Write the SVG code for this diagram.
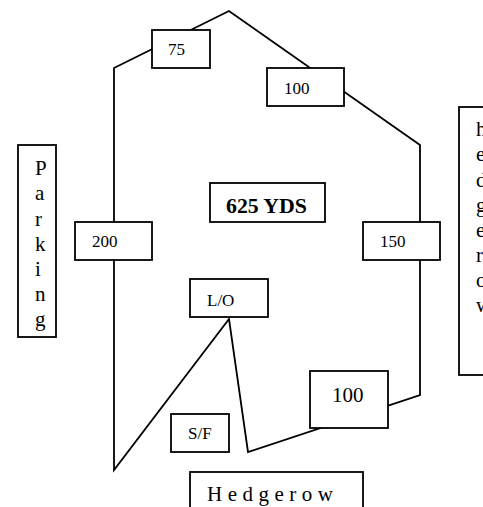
<svg xmlns="http://www.w3.org/2000/svg" width="483" height="507" viewBox="0 0 483 507">
<style>
rect{fill:#fff;stroke:#000;stroke-width:1.8}
path{fill:none;stroke:#000;stroke-width:1.8}
text{font-family:"Liberation Serif","Times New Roman",serif;fill:#000}
.s{font-size:17px}
.m{font-size:21px}
</style>
<rect width="483" height="507" style="fill:#fff;stroke:none"/>
<g id="connectors">
<path d="M114 470V68L229 11L420 145V395L248 452L229 319Z"/>
</g>
<g id="n75"><rect x="152" y="30" width="58" height="38"/><text class="s" x="168" y="55">75</text></g>
<g id="n100top"><rect x="267" y="68" width="77" height="38"/><text class="s" x="284" y="94">100</text></g>
<g id="n150"><rect x="363" y="222" width="77" height="38"/><text class="s" x="380" y="247">150</text></g>
<g id="n200"><rect x="75" y="222" width="77" height="38"/><text class="s" x="92" y="247">200</text></g>
<g id="n625"><rect x="210" y="183" width="115" height="39"/><text x="226" y="213" font-size="21.8" font-weight="bold">625 YDS</text></g>
<g id="parking"><rect x="18" y="145" width="38" height="192"/>
<text class="m" x="35" y="175">P</text><text class="m" x="35" y="200">a</text><text class="m" x="35" y="226">r</text><text class="m" x="35" y="251">k</text><text class="m" x="35" y="276">i</text><text class="m" x="35" y="301">n</text><text class="m" x="35" y="326">g</text></g>
<g id="lo"><rect x="190" y="279" width="78" height="38"/><text class="s" x="207" y="306">L/O</text></g>
<g id="sf"><rect x="171" y="414" width="58" height="38"/><text class="s" x="188" y="439">S/F</text></g>
<g id="n100bottom"><rect x="310" y="371" width="78" height="57"/><text x="332" y="402" font-size="21">100</text></g>
<g id="hedgerow"><rect x="190" y="472" width="173" height="45"/><text class="m" x="207" y="501" letter-spacing="5.5">Hedgerow</text></g>
<g id="side"><rect x="459" y="107" width="40" height="268"/>
<text class="m" x="476" y="136">h</text><text class="m" x="476" y="161">e</text><text class="m" x="476" y="187">d</text><text class="m" x="476" y="212">g</text><text class="m" x="476" y="237">e</text><text class="m" x="476" y="262">r</text><text class="m" x="476" y="287">o</text><text class="m" x="476" y="312">w</text></g>
</svg>
